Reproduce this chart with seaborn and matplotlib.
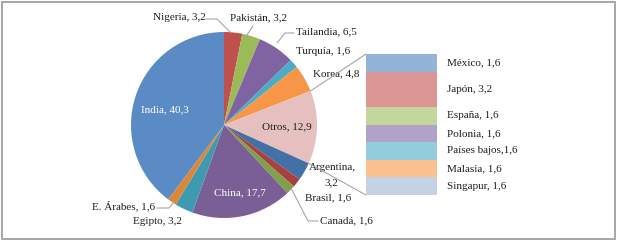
import numpy as np
import matplotlib
matplotlib.use("Agg")
import matplotlib.pyplot as plt
from matplotlib.patches import ConnectionPatch, Rectangle
import seaborn as sns

sns.set_theme(style="white")
plt.rcParams["font.family"] = ["Liberation Serif", "DejaVu Serif"]

# datos del pastel (sentido horario desde las 12)
paises = ["Nigeria", "Pakistán", "Tailandia", "Turquía", "Korea", "Otros",
          "Argentina", "Brasil", "Canadá", "China", "Egipto", "E. Árabes", "India"]
valores = [3.2, 3.2, 6.5, 1.6, 4.8, 12.9, 3.2, 1.6, 1.6, 17.7, 3.2, 1.6, 40.3]
colores = ["#C0504D", "#9BBB59", "#8064A2", "#4BACC6", "#F79646", "#E6C0BF",
           "#4371A6", "#A8423F", "#81A04A", "#7A5F96", "#3E9AB3", "#D98838", "#5B8BC4"]
etiquetas_pie = ["Nigeria, 3,2", "Pakistán, 3,2", "Tailandia, 6,5", "Turquía, 1,6",
                 "Korea, 4,8", "Otros, 12,9", "Argentina,", "Brasil, 1,6",
                 "Canadá, 1,6", "China, 17,7", "Egipto, 3,2", "E. Árabes, 1,6",
                 "India, 40,3"]

# desglose de "Otros" (de arriba abajo)
otros = ["México", "Japón", "España", "Polonia", "Países bajos", "Malasia", "Singapur"]
otros_val = [1.6, 3.2, 1.6, 1.6, 1.6, 1.6, 1.6]
otros_col = ["#95B3D7", "#D99694", "#C3D69B", "#B3A2C7", "#93CDDD", "#FAC090", "#C5D2E6"]
otros_lab = ["México, 1,6", "Japón, 3,2", "España, 1,6", "Polonia, 1,6",
             "Países bajos,1,6", "Malasia, 1,6", "Singapur, 1,6"]

W, H = 617, 241
FS = 8.0
TXT = "#1E1E1E"
fig = plt.figure(figsize=(W / 100, H / 100), dpi=100)
fig.patch.set_facecolor("white")


def px_box(x0, y0, x1, y1):
    # caja en pixeles (y hacia abajo) -> fracción de figura
    return [x0 / W, (H - y1) / H, (x1 - x0) / W, (y1 - y0) / H]


# ── pastel ─────────────────────────────────────────
ax_pie = fig.add_axes(px_box(131, 32, 317, 218))
ax_pie.pie(valores, colors=colores, startangle=90, counterclock=False,
           radius=1, wedgeprops=dict(linewidth=0))
ax_pie.set_xlim(-1, 1)
ax_pie.set_ylim(-1, 1)
ax_pie.set_aspect("equal")
ax_pie.axis("off")

# ── barra apilada de "Otros" ───────────────────────
ax_bar = fig.add_axes(px_box(366, 54, 437, 195))
inicio = np.concatenate([[0], np.cumsum(otros_val)[:-1]])
ax_bar.bar(0, otros_val, bottom=inicio, width=1, color=otros_col, linewidth=0)
ax_bar.set_xlim(-0.5, 0.5)
ax_bar.set_ylim(sum(otros_val), 0)
ax_bar.axis("off")
for lab, b, v in zip(otros_lab, inicio, otros_val):
    ax_bar.text(1.14, b + v / 2, lab, transform=ax_bar.get_yaxis_transform(),
                ha="left", va="center", fontsize=FS, color=TXT)

# líneas de unión entre "Otros" y la barra
total = sum(valores)
i_otros = paises.index("Otros")
cum = np.cumsum(valores)
ang_a = np.deg2rad(90 - 360 * (cum[i_otros] - valores[i_otros]) / total)
ang_b = np.deg2rad(90 - 360 * cum[i_otros] / total)
for ang, ybar in [(ang_a, 0), (ang_b, sum(otros_val))]:
    con = ConnectionPatch(xyA=(np.cos(ang), np.sin(ang)), coordsA=ax_pie.transData,
                          xyB=(-0.5, ybar), coordsB=ax_bar.transData,
                          color="#A6A6A6", linewidth=0.8)
    fig.add_artist(con)

# ── capa de textos en pixeles ──────────────────────
ov = fig.add_axes([0, 0, 1, 1])
ov.set_xlim(0, W)
ov.set_ylim(H, 0)
ov.axis("off")
ov.patch.set_alpha(0)

pos = {
    "Nigeria": (153, 18, "left", TXT),
    "Pakistán": (230, 18, "left", TXT),
    "Tailandia": (296, 32, "left", TXT),
    "Turquía": (296, 52, "left", TXT),
    "Korea": (313, 74, "left", TXT),
    "Otros": (287, 127, "center", TXT),
    "Argentina": (332, 167, "center", TXT),
    "Brasil": (305, 198, "left", TXT),
    "Canadá": (320, 221, "left", TXT),
    "China": (240, 193, "center", "white"),
    "Egipto": (133, 222, "left", TXT),
    "E. Árabes": (155, 206, "right", TXT),
    "India": (165, 110, "center", "white"),
}
for p, lab in zip(paises, etiquetas_pie):
    x, y, ha, c = pos[p]
    ov.text(x, y, lab, ha=ha, va="center", fontsize=FS, color=c)
# segunda línea de la etiqueta de Argentina
ov.text(331, 183, "3,2", ha="center", va="center", fontsize=FS, color=TXT)

lideres = [
    [(206, 19), (217, 19), (230, 32)],
    [(253, 26), (247, 35)],
    [(294, 33), (285, 33), (277, 43)],
    [(157, 208), (169, 208), (174, 202)],
    [(318, 221), (308, 221), (291, 188)],
]
for pts in lideres:
    xs, ys = zip(*pts)
    ov.plot(xs, ys, color="#A6A6A6", linewidth=0.8)

ov.add_patch(Rectangle((1.5, 1.5), W - 3.5, H - 3.5, fill=False,
                       edgecolor="#A6A6A6", linewidth=1.4))

fig.savefig("out.png", dpi=100)
